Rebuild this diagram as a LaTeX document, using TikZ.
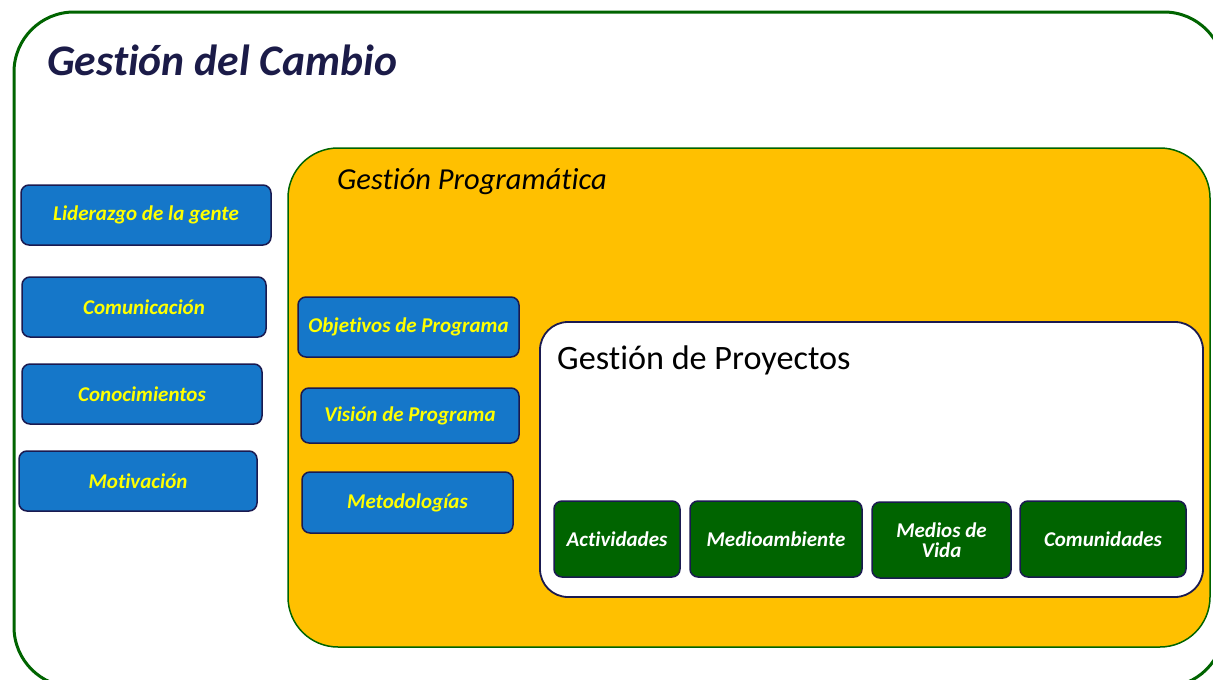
\documentclass[tikz,border=0pt]{standalone}
\usepackage{fontspec}
\setmainfont{Carlito}[Ligatures={NoCommon,NoRequired,NoContextual}]
\definecolor{outergreen}{HTML}{006400}
\definecolor{progyellow}{HTML}{FFC000}
\definecolor{boxblue}{HTML}{1577C9}
\definecolor{navy}{HTML}{1A1A50}
\definecolor{titlenavy}{HTML}{1B1B48}
\definecolor{txtyellow}{HTML}{FFFF00}
\definecolor{darkgreen}{HTML}{006400}
\tikzset{
  container/.style={draw, rounded corners=#1, inner sep=0pt},
  bluebox/.style={draw=navy, line width=1.5pt, fill=boxblue, rounded corners=8pt,
    inner sep=2pt, align=center, text=txtyellow,
    font=\fontsize{21}{23}\selectfont\bfseries\itshape},
  greenbox/.style={draw=navy, line width=1.5pt, fill=darkgreen, rounded corners=8pt,
    inner sep=2pt, align=center, text=white,
    font=\fontsize{21}{21}\selectfont\bfseries\itshape},
}
\newcommand{\boxat}[6]{% style, name, x1, y1, x2, y2 ... text follows
  \node[#1, minimum width={(#5-#3)*1pt}, minimum height={(#6-#4)*1pt}] (#2) at ({(#3+#5)/2},{(#4+#6)/2})}
\begin{document}
\begin{tikzpicture}[x=1pt,y=-1pt]
\useasboundingbox (0,0) rectangle (1213,680);
\begin{scope}
\clip (0,0) rectangle (1213,680);
% outer container
\node[container=60pt, draw=outergreen, line width=3pt, minimum width=1210pt, minimum height=675pt]
  (outer) at (619,349.5) {};
% programme container
\node[container=50pt, draw=outergreen, line width=1.5pt, fill=progyellow,
  minimum width=922pt, minimum height=499pt] (prog) at (749,397.5) {};
% project container
\node[container=28pt, draw=navy, line width=1.8pt, fill=white,
  minimum width=663pt, minimum height=275pt] (proj) at (871.5,459.5) {};
\end{scope}
% titles
\node[anchor=base west, inner sep=0pt, text=titlenavy,
  font=\fontsize{43.6}{48}\selectfont\bfseries\itshape] (t1) at (47,75) {Gestión del Cambio};
\node[anchor=base west, inner sep=0pt, text=black,
  font=\fontsize{30.5}{34}\selectfont\itshape] (t2) at (337,189) {Gestión Programática};
\node[anchor=base west, inner sep=0pt, text=black,
  font=\fontsize{34.2}{36}\selectfont] (t3) at (557,369) {Gestión de Proyectos};
% left boxes
\boxat{bluebox}{lid}{21}{185}{271}{245} {Liderazgo de la gente};
\boxat{bluebox}{com}{22}{277}{266}{337} {Comunicación};
\boxat{bluebox}{con}{22}{364}{262}{424} {Conocimientos};
\boxat{bluebox}{mot}{19}{451}{257}{511} {Motivación};
% programme boxes
\boxat{bluebox}{obj}{298}{297}{519}{357} {Objetivos de Programa};
\boxat{bluebox}{vis}{301}{388}{519}{443} {Visión de Programa};
\boxat{bluebox}{met}{302}{472}{513}{533} {Metodologías};
% project boxes
\boxat{greenbox}{act}{554}{501}{680}{577} {Actividades};
\boxat{greenbox}{med}{690}{501}{862}{577} {Medioambiente};
\boxat{greenbox}{vid}{872}{502}{1011}{578} {Medios de\\[-1pt]Vida};
\boxat{greenbox}{cmd}{1020}{501}{1186}{577} {Comunidades};
\end{tikzpicture}
\end{document}
